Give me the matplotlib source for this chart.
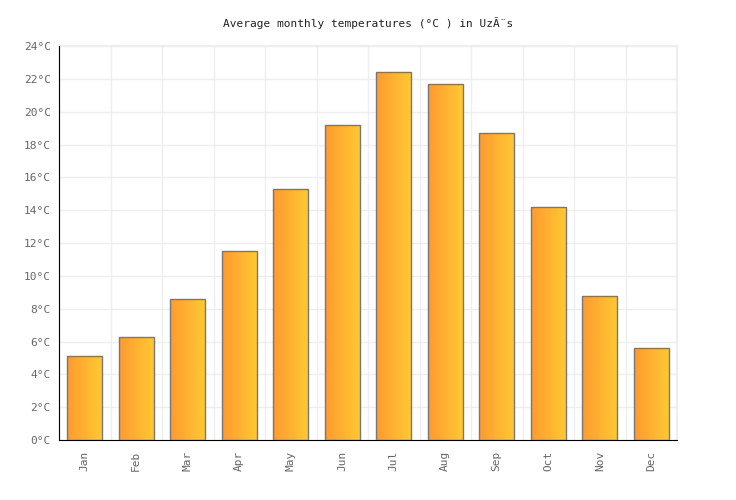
import matplotlib
matplotlib.use("Agg")
import matplotlib.pyplot as plt
import numpy as np
from matplotlib.colors import LinearSegmentedColormap

months = ["Jan", "Feb", "Mar", "Apr", "May", "Jun", "Jul", "Aug", "Sep", "Oct", "Nov", "Dec"]
temps = [5.1, 6.3, 8.6, 11.5, 15.3, 19.2, 22.4, 21.7, 18.7, 14.2, 8.8, 5.6]
yticks = [0, 2, 4, 6, 8, 10, 12, 14, 16, 18, 20, 22, 24]
title = "Average monthly temperatures (°C ) in UzÃ¨s"

plt.rcParams['font.family'] = ['DejaVu Sans Mono', 'DejaVu Sans']

fig = plt.figure(figsize=(7.36, 5.0), dpi=100)
ax = fig.add_axes([59/736, 60/500, 618/736, 394/500])

cmap = LinearSegmentedColormap.from_list("g", ["#ff9a30", "#ffca33"])
grad = np.linspace(0, 1, 256).reshape(1, -1)
x = np.arange(len(months))
w = 0.68
bars = ax.bar(x, temps, width=w, facecolor="none", edgecolor="#777777", linewidth=1.0, zorder=3)
for b in bars:
    x0, y0 = b.get_x(), b.get_y()
    im = ax.imshow(grad, cmap=cmap, aspect="auto", extent=[x0, x0 + b.get_width(), y0, y0 + b.get_height()],
                   zorder=2, interpolation="bicubic")
    im.set_clip_path(b)

ax.set_xlim(-0.5, len(months) - 0.5)
ax.set_ylim(0, 24)
ax.set_yticks(yticks)
ax.set_yticklabels([f"{v}°C" for v in yticks])
ax.set_xticks(x)
ax.set_xticklabels(months, rotation=90)
ax.set_xticks(np.arange(len(months) + 1) - 0.5, minor=True)
ax.grid(True, which="major", axis="y", color="#eeeeee", linewidth=1, zorder=0)
ax.grid(True, which="minor", axis="x", color="#eeeeee", linewidth=1, zorder=0)
ax.axvline(len(months) - 0.5, color="#eeeeee", linewidth=1.5, zorder=0, clip_on=False)
ax.axhline(24, color="#eeeeee", linewidth=1.5, zorder=0, clip_on=False)
ax.set_axisbelow(True)

for s in ["top", "right"]:
    ax.spines[s].set_visible(False)
ax.spines["left"].set_color("black")
ax.spines["bottom"].set_color("black")
ax.tick_params(axis="both", which="both", length=0, labelsize=8, colors="#666666")
ax.tick_params(axis="y", which="major", pad=6)
ax.tick_params(axis="x", which="major", pad=8)

fig.text(0.5, 1 - 23/500, title, ha="center", va="center", fontsize=8, color="#222222")

fig.savefig("out.png", dpi=100, facecolor="white")
